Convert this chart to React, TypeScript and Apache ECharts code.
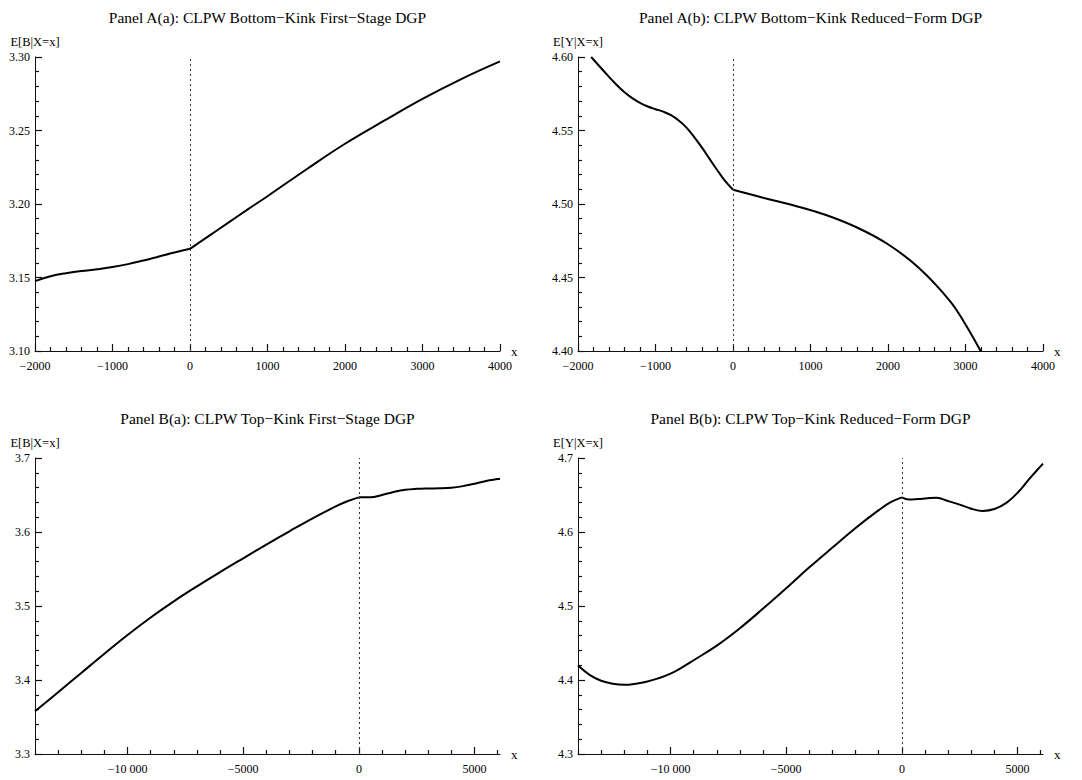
import React, { useEffect, useRef } from "react";
import * as echarts from "echarts";

const FONT = '"Liberation Serif", "Times New Roman", Times, serif';

// ---------- titles / axis names ----------
const TITLES = [
  "Panel A(a): CLPW Bottom\u2212Kink First\u2212Stage DGP",
  "Panel A(b): CLPW Bottom\u2212Kink Reduced\u2212Form DGP",
  "Panel B(a): CLPW Top\u2212Kink First\u2212Stage DGP",
  "Panel B(b): CLPW Top\u2212Kink Reduced\u2212Form DGP",
];
const Y_NAMES = ["E[B|X=x]", "E[Y|X=x]", "E[B|X=x]", "E[Y|X=x]"];

// ---------- major tick values ----------
const A_X_TICKS = [-2000, -1000, 0, 1000, 2000, 3000, 4000];
const B_X_TICKS = [-15000, -10000, -5000, 0, 5000, 10000];
const AA_Y_TICKS = [3.1, 3.15, 3.2, 3.25, 3.3];
const AB_Y_TICKS = [4.4, 4.45, 4.5, 4.55, 4.6];
const BA_Y_TICKS = [3.3, 3.4, 3.5, 3.6, 3.7];
const BB_Y_TICKS = [4.3, 4.4, 4.5, 4.6, 4.7];

// ---------- data ----------
const aaX = [-2000, -1800, -1600, -1400, -1200, -1000, -800, -600, -400, -200, 0, 250, 500, 750, 1000, 1500, 2000, 2500, 3000, 3500, 4000];
const aaY = [3.1475, 3.1508, 3.1529, 3.1544, 3.1556, 3.1571, 3.1591, 3.1616, 3.1643, 3.1670, 3.1695, 3.1785, 3.1875, 3.1965, 3.2053, 3.2235, 3.2410, 3.2565, 3.2715, 3.2850, 3.2970];

const abX = [-1830, -1600, -1500, -1400, -1300, -1200, -1100, -1000, -900, -800, -700, -600, -500, -400, -300, -200, -100, 0, 400, 800, 1200, 1600, 2000, 2400, 2800, 3000, 3195];
const abY = [4.6000, 4.5865, 4.5810, 4.5760, 4.5720, 4.5688, 4.5663, 4.5645, 4.5628, 4.5605, 4.5568, 4.5520, 4.5455, 4.5383, 4.5305, 4.5228, 4.5155, 4.5097, 4.5041, 4.4988, 4.4925, 4.4840, 4.4726, 4.4565, 4.4340, 4.4180, 4.4000];

const baX = [-14000, -13000, -12000, -11000, -10000, -9000, -8000, -7000, -6000, -5000, -4000, -3000, -2000, -1000, -500, 0, 500, 1000, 1500, 2000, 2500, 3000, 3500, 4000, 4500, 5000, 5500, 6000, 6100];
const baY = [3.3577, 3.3835, 3.4095, 3.4355, 3.4608, 3.4845, 3.5063, 3.5265, 3.5458, 3.5645, 3.5830, 3.6010, 3.6185, 3.6345, 3.6415, 3.6468, 3.6468, 3.6500, 3.6540, 3.6570, 3.6583, 3.6588, 3.6590, 3.6598, 3.6620, 3.6653, 3.6690, 3.6715, 3.6720];

const bbX = [-14000, -13500, -13000, -12500, -12000, -11500, -11000, -10500, -10000, -9500, -9000, -8000, -7000, -6000, -5000, -4000, -3000, -2000, -1000, -500, 0, 300, 700, 1100, 1500, 2000, 2500, 3000, 3500, 4000, 4500, 5000, 5500, 6000, 6100];
const bbY = [4.4195, 4.4070, 4.3990, 4.3950, 4.3935, 4.3950, 4.3980, 4.4025, 4.4085, 4.4170, 4.4267, 4.4465, 4.4700, 4.4965, 4.5240, 4.5522, 4.5790, 4.6055, 4.6295, 4.6400, 4.6468, 4.6438, 4.6445, 4.6455, 4.6462, 4.6418, 4.6370, 4.6315, 4.6285, 4.6310, 4.6390, 4.6530, 4.6714, 4.6890, 4.6925];

const fmtX = (v: number) => {
  const a = Math.abs(v);
  const s = a >= 10000 ? String(a).replace(/(\d)(?=(\d{3})$)/, "$1 ") : String(a);
  return v < 0 ? "\u2212" + s : s;
};

// subdivide major ticks into 5 parts for minor ticks
const minors = (majors: number[], lo: number, hi: number) => {
  const out: number[] = [];
  const step = (majors[1] - majors[0]) / 5;
  for (let i = 0; i < majors.length - 1; i++) {
    for (let k = 1; k < 5; k++) {
      const v = +(majors[i] + k * step).toFixed(6);
      if (v >= lo - 1e-9 && v <= hi + 1e-9) out.push(v);
    }
  }
  return out;
};

const PANELS = [
  { x: aaX, y: aaY, xMin: -2000, xMax: 4000, xTicks: A_X_TICKS, yMin: 3.1, yMax: 3.3, yTicks: AA_Y_TICKS, yDig: 2 },
  { x: abX, y: abY, xMin: -2000, xMax: 4000, xTicks: A_X_TICKS, yMin: 4.4, yMax: 4.6, yTicks: AB_Y_TICKS, yDig: 2 },
  { x: baX, y: baY, xMin: -14000, xMax: 6100, xTicks: B_X_TICKS, yMin: 3.3, yMax: 3.7, yTicks: BA_Y_TICKS, yDig: 1 },
  { x: bbX, y: bbY, xMin: -14000, xMax: 6100, xTicks: B_X_TICKS, yMin: 4.3, yMax: 4.7, yTicks: BB_Y_TICKS, yDig: 1 },
];

const LAYOUT = [
  { left: 35, top: 57, width: 465, height: 294 },
  { left: 578, top: 57, width: 465, height: 294 },
  { left: 35, top: 458, width: 465, height: 296 },
  { left: 578, top: 458, width: 465, height: 296 },
];

const AXIS_COLOR = "#111";
const TICK_STYLE = { color: "#111", width: 1.2 };

function buildOption() {
  const grid: any[] = [];
  const xAxis: any[] = [];
  const yAxis: any[] = [];
  const series: any[] = [];
  const title: any[] = [];

  PANELS.forEach((p, i) => {
    const L = LAYOUT[i];
    grid.push({ left: L.left, top: L.top, width: L.width, height: L.height, containLabel: false });
    title.push({
      text: TITLES[i],
      left: L.left + L.width / 2,
      top: L.top - 48,
      padding: 0,
      textAlign: "center",
      textStyle: { fontFamily: FONT, fontSize: 15.5, fontWeight: "normal", color: "#000" },
    });

    const xMaj = p.xTicks.filter((v) => v >= p.xMin && v <= p.xMax);
    const xMin = minors(p.xTicks, p.xMin, p.xMax);
    const yMaj = p.yTicks;
    const yMin = minors(p.yTicks, p.yMin, p.yMax);

    const baseX: any = {
      gridIndex: i,
      type: "value",
      position: "bottom",
      min: p.xMin,
      max: p.xMax,
      splitLine: { show: false },
      minorTick: { show: false },
    };
    const xMainIndex = xAxis.length;
    xAxis.push({
      ...baseX,
      axisLine: { show: true, onZero: false, lineStyle: { color: AXIS_COLOR, width: 1 } },
      axisTick: { show: true, inside: true, length: 7, customValues: xMaj, lineStyle: TICK_STYLE },
      axisLabel: {
        margin: 9,
        fontFamily: FONT,
        fontSize: 12,
        color: "#000",
        customValues: xMaj,
        formatter: (v: number) => fmtX(v),
      },
      name: "x",
      nameLocation: "end",
      nameGap: 11,
      nameTextStyle: { fontFamily: FONT, fontSize: 13, color: "#000", padding: [5, 0, 0, 0] },
    });
    xAxis.push({
      ...baseX,
      axisLine: { show: false, onZero: false },
      axisTick: { show: true, inside: true, length: 4, customValues: xMin, lineStyle: TICK_STYLE },
      axisLabel: { show: false, customValues: xMin },
    });

    const baseY: any = {
      gridIndex: i,
      type: "value",
      position: "left",
      min: p.yMin,
      max: p.yMax,
      splitLine: { show: false },
      minorTick: { show: false },
    };
    const yIndex = yAxis.length;
    yAxis.push({
      ...baseY,
      axisLine: { show: true, onZero: false, lineStyle: { color: AXIS_COLOR, width: 1 } },
      axisTick: { show: true, inside: true, length: 7, customValues: yMaj, lineStyle: TICK_STYLE },
      axisLabel: {
        margin: 5,
        fontFamily: FONT,
        fontSize: 12,
        color: "#000",
        customValues: yMaj,
        formatter: (v: number) => v.toFixed(p.yDig),
      },
      name: Y_NAMES[i],
      nameLocation: "end",
      nameGap: 9,
      nameTextStyle: { fontFamily: FONT, fontSize: 12.5, color: "#000", align: "center" },
    });
    yAxis.push({
      ...baseY,
      axisLine: { show: false, onZero: false },
      axisTick: { show: true, inside: true, length: 4, customValues: yMin, lineStyle: TICK_STYLE },
      axisLabel: { show: false, customValues: yMin },
    });

    const left: number[][] = [];
    const right: number[][] = [];
    p.x.forEach((xv, k) => {
      if (xv <= 0) left.push([xv, p.y[k]]);
      if (xv >= 0) right.push([xv, p.y[k]]);
    });
    const lineBase = {
      type: "line",
      xAxisIndex: xMainIndex,
      yAxisIndex: yIndex,
      showSymbol: false,
      symbol: "none",
      smooth: 0.4,
      clip: true,
      lineStyle: { color: "#000", width: 2 },
      z: 3,
    };
    series.push({
      ...lineBase,
      data: left,
      markLine: {
        silent: true,
        symbol: "none",
        label: { show: false },
        lineStyle: { color: "#333", width: 1, type: [2, 3] },
        data: [{ xAxis: 0 }],
      },
    });
    series.push({ ...lineBase, data: right });
  });

  return { animation: false, backgroundColor: "#fff", title, grid, xAxis, yAxis, series };
}

export default function App() {
  const ref = useRef<HTMLDivElement>(null);
  useEffect(() => {
    if (!ref.current) return;
    const chart = echarts.init(ref.current, undefined, { renderer: "svg" });
    chart.setOption(buildOption() as any);
    return () => chart.dispose();
  }, []);
  return (
    <div
      ref={ref}
      style={{ position: "fixed", left: 0, top: 0, width: 1082, height: 780, background: "#fff" }}
    />
  );
}
